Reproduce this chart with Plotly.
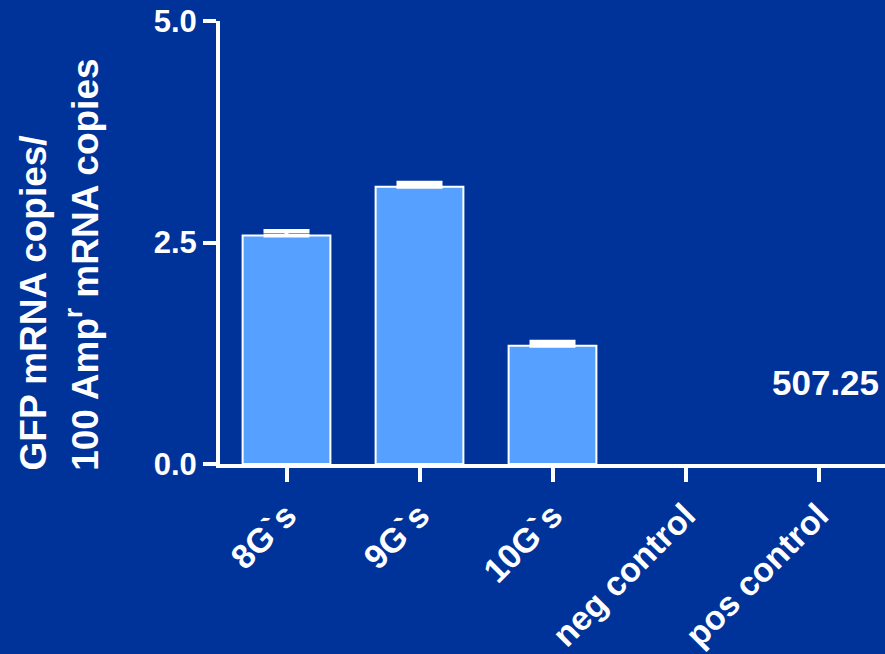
import plotly.graph_objects as go

# Categories and measured values
categories = ["8G`s", "9G`s", "10G`s", "neg control", "pos control"]
bar_values = [2.58, 3.13, 1.335, None, None]   # pos control is off scale, no bar drawn
error_plus = [0.05, 0.045, 0.045, 0.0, 0.0]
pos_control_value = 507.25
y_ticks = [0.0, 2.5, 5.0]

BG = "#003399"
BAR = "#56A0FF"
WHITE = "#FFFFFF"
FONT = "Liberation Sans"

fig = go.Figure()
fig.add_trace(go.Bar(
    x=categories,
    y=bar_values,
    width=0.66,
    marker=dict(color=BAR, line=dict(color=WHITE, width=2)),
    error_y=dict(type="data", symmetric=False, array=error_plus,
                 arrayminus=[0] * len(error_plus),
                 color=WHITE, thickness=4, width=23),
    hoverinfo="skip",
))

fig.update_layout(
    width=885, height=654,
    paper_bgcolor=BG, plot_bgcolor=BG,
    margin=dict(l=220, r=0, t=21, b=190),
    showlegend=False,
    font=dict(family=FONT, color=WHITE, weight="bold"),
)

fig.update_xaxes(
    type="category", range=[-0.5, 4.5],
    showline=True, linecolor=WHITE, linewidth=4,
    ticks="outside", ticklen=14, tickwidth=4, tickcolor=WHITE,
    tickangle=-45, tickfont=dict(size=34, family=FONT, color=WHITE, weight="bold"),
    showgrid=False, zeroline=False,
)
fig.update_yaxes(
    range=[0, 5], tickvals=y_ticks, ticktext=[f"{v:.1f}" for v in y_ticks],
    showline=True, linecolor=WHITE, linewidth=4,
    ticks="outside", ticklen=13, tickwidth=4, tickcolor=WHITE,
    tickfont=dict(size=31, family=FONT, color=WHITE, weight="bold"),
    showgrid=False, zeroline=False,
)

# Off-scale value of the positive control
fig.add_annotation(
    x="pos control", y=0.92, xref="x", yref="y",
    text=f"{pos_control_value:.2f}", showarrow=False, xshift=7,
    font=dict(size=35, family=FONT, color=WHITE, weight="bold"),
)

# Two-line y-axis title, both lines starting at the same baseline
title_lines = ["GFP mRNA copies/", "100 Amp<sup>r</sup> mRNA copies"]
title_x = [-0.281, -0.206]
for line, xp in zip(title_lines, title_x):
    fig.add_annotation(
        x=xp, y=-0.02, xref="paper", yref="paper",
        text=line, textangle=-90, showarrow=False,
        xanchor="center", yanchor="bottom",
        font=dict(size=37, family=FONT, color=WHITE, weight="bold"),
    )

fig.write_html("out.html")
